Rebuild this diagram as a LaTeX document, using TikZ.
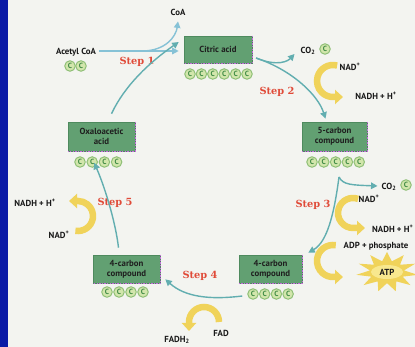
\documentclass[tikz,border=0pt]{standalone}
\usepackage{fontspec}
\setsansfont{PT Sans}
\newfontfamily\stepfont{DejaVu Serif}
\usetikzlibrary{arrows.meta,shapes.geometric,calc}
\definecolor{bg}{HTML}{F3F4F0}
\definecolor{barblue}{HTML}{0A1AA6}
\definecolor{boxgreen}{HTML}{62A072}
\definecolor{boxedge}{HTML}{4E8A5E}
\definecolor{tealc}{HTML}{62AEB0}
\definecolor{acl}{HTML}{86C2D6}
\definecolor{yel}{HTML}{F0D35A}
\definecolor{yellight}{HTML}{F8E88E}
\definecolor{stepred}{HTML}{E04A38}
\definecolor{cfill}{HTML}{D2E6AC}
\definecolor{cring}{HTML}{90C078}
\definecolor{ctext}{HTML}{3F8A45}
\definecolor{magc}{HTML}{C86AE0}
\begin{document}
\begin{tikzpicture}[x=1pt,y=-1pt,
  lbl/.style={font=\sffamily\bfseries\fontsize{8.8}{10}\selectfont, text=black!90, inner sep=0pt},
  stepl/.style={font=\stepfont\bfseries\fontsize{9.8}{12}\selectfont, text=stepred, inner sep=0pt},
  box/.style={rectangle, fill=boxgreen, draw=boxedge, line width=0.6pt, align=center,
    font=\sffamily\bfseries\fontsize{8.8}{10.2}\selectfont, text=black!88, inner sep=0pt},
  magd/.style={draw=magc, line width=1.1pt, dash pattern=on 1.3pt off 1.3pt},
  cc/.style={circle, draw=cring, line width=1pt, fill=cfill, inner sep=0pt, minimum size=10.5pt,
    text=ctext, font=\sffamily\bfseries\fontsize{7.5}{7.5}\selectfont},
  arr/.style={draw=tealc, line width=1.4pt, -{Triangle[length=6.5pt,width=6.5pt]}},
  ycurve/.style={draw=yel, line width=6.5pt, -{Triangle[length=8pt,width=14pt]}}]
\useasboundingbox (0,0) rectangle (415,347);
\clip (0,0) rectangle (415,347);
\fill[bg] (0,0) rectangle (415,347);
\fill[barblue] (0,0) rectangle (8,347);

% boxes
\node[box, minimum width=68pt, minimum height=27pt] (cit) at (218,49.5) {Citric acid};
\node[box, minimum width=65pt, minimum height=29pt] (five) at (334.5,136.5) {5-carbon\\compound};
\node[box, minimum width=63pt, minimum height=28pt] (fourR) at (270.5,269) {4-carbon\\compound};
\node[box, minimum width=67pt, minimum height=28pt] (fourL) at (126.5,269) {4-carbon\\compound};
\node[box, minimum width=67pt, minimum height=29pt] (oxa) at (101.5,136.5) {Oxaloacetic\\acid};
\foreach \b in {cit,five,fourR,fourL,oxa}
  \draw[magd] (\b.north east) -- (\b.south east) -- (\b.south west);

% carbon circles
\foreach \i in {0,...,5} \node[cc] (cc\i) at (190+11.4*\i,74) {C};
\foreach \i in {0,...,4} \node[cc] (fc\i) at (312+11.8*\i,162) {C};
\foreach \i in {0,...,3} \node[cc] (rc\i) at (253+11.7*\i,294) {C};
\foreach \i in {0,...,3} \node[cc] (lc\i) at (107+12*\i,292) {C};
\foreach \i in {0,...,3} \node[cc] (oc\i) at (80+12.2*\i,162) {C};
\node[cc] (ac0) at (70,66) {C};
\node[cc] (ac1) at (81,66) {C};
\node[cc] (co2ac) at (325,49) {C};
\node[cc] (co2bc) at (406,185) {C};

% labels
\node[lbl] (acetyl) at (76,52) {Acetyl CoA};
\node[lbl] (coa) at (178,12) {CoA};
\node[lbl] (co2a) at (308,51) {CO\textsubscript{2}};
\node[lbl] (nad2) at (350,67) {NAD\textsuperscript{+}};
\node[lbl] (nadh2) at (376,96) {NADH + H\textsuperscript{+}};
\node[lbl] (co2b) at (389,187) {CO\textsubscript{2}};
\node[lbl] (nad3) at (369,199) {NAD\textsuperscript{+}};
\node[lbl, anchor=west] (nadh3) at (372,229) {NADH + H\textsuperscript{+}};
\node[lbl] (adp) at (376,246) {ADP + phosphate};
\node[lbl] (fad) at (221,333) {FAD};
\node[lbl] (fadh) at (177,340) {FADH\textsubscript{2}};
\node[lbl] (nadh5) at (35,203) {NADH + H\textsuperscript{+}};
\node[lbl] (nad5) at (59,235) {NAD\textsuperscript{+}};

\node[stepl] (s1) at (137,62) {Step 1};
\node[stepl] (s2) at (277,92) {Step 2};
\node[stepl] (s3) at (313,205) {Step 3};
\node[stepl] (s4) at (200,276) {Step 4};
\node[stepl] (s5) at (115,203) {Step 5};

% ATP star
\node[star, star points=11, star point ratio=1.8, fill=yel, minimum size=40pt, inner sep=0pt, xscale=1.55] (atp) at (387,272) {};
\fill[yellight] (387,272) ellipse [x radius=16, y radius=7];
\node[lbl] (atpl) at (atp) {ATP};

% teal connectors
\coordinate (b1) at (142,51);
\draw[arr, draw=acl] (acetyl.east) ++(3,-1) -- ($(cit.west)+(-5,1.5)$);
\draw[arr, draw=acl] (b1) .. controls (166,51) and (176,36) .. ($(coa.south)+(0,6)$);
\draw[arr] ($(oxa.north)+(10,-8)$) .. controls (125,85) and (150,62) .. ($(cit.west)+(-5,-7.5)$);
\coordinate (b2) at (256,58);
\draw[arr] (b2) .. controls (292,70) and (318,95) .. ($(five.north)+(-9,-3)$);
\draw[arr] (b2) .. controls (278,67) and (288,61) .. ($(co2a.west)+(-6,3)$);
\coordinate (b3) at (339,177);
\draw[arr] (b3) .. controls (334,215) and (327,242) .. ($(fourR.north east)+(6,-2)$);
\draw[arr] (b3) .. controls (343,185) and (352,185) .. ($(co2b.west)+(-4,-1)$);
\draw[arr] ($(rc0.west)+(-5,2)$) .. controls (210,300) and (185,297) .. ($(fourL.south east)+(5,-4)$);
\draw[arr] ($(fourL.north)+(-8,-7)$) .. controls (116,225) and (106,190) .. ($(oc1.south)+(2,-5)$);

% yellow curved arrows
\draw[ycurve] ($(333,81)+(-75:16)$) arc[start angle=-75, end angle=-270, radius=16] -- ++(10,0);
\draw[ycurve] ($(353,213)+(-70:15)$) arc[start angle=-70, end angle=-270, radius=15] -- ++(12,0);
\draw[ycurve] ($(333,261)+(-80:16)$) arc[start angle=-80, end angle=-270, radius=16] -- ++(10,0);
\draw[ycurve] ($(204,322)+(0:15)$) arc[start angle=0, end angle=-180, radius=15] -- ++(0,9);
\draw[ycurve] ($(78,216)+(100:15)$) arc[start angle=100, end angle=-90, radius=15] -- ++(-9,0);
\end{tikzpicture}
\end{document}
